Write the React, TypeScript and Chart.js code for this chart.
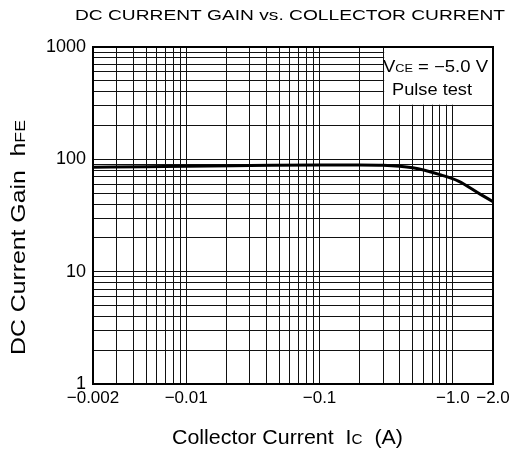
import React, { useEffect, useRef } from 'react';
import { Chart, registerables } from 'chart.js';

Chart.register(...registerables);

// Data (|Ic| in A, hFE)
const collectorCurrent = [0.002, 0.005, 0.01, 0.03, 0.1, 0.2, 0.3, 0.5, 0.8, 1.1, 1.6, 2.0];
const dcCurrentGain = [85, 86, 87, 88, 89, 89, 88.5, 84, 73, 64, 49, 42];

// Tick labels
const xTickValues = [0.002, 0.01, 0.1, 1, 2];
const xTickLabels = ['\u22120.002', '\u22120.01', '\u22120.1', '\u22121.0', '\u22122.0'];
const yTickValues = [1, 10, 100, 1000];
const yTickLabels = ['1', '10', '100', '1000'];

const xMin = 0.002;
const xMax = 2;
const yMin = 1;
const yMax = 1000;

const FONT = '"Liberation Sans", Arial, Helvetica, sans-serif';

function logGrid(min: number, max: number): number[] {
  const out: number[] = [];
  const e0 = Math.floor(Math.log10(min));
  const e1 = Math.ceil(Math.log10(max));
  for (let e = e0; e <= e1; e++) {
    for (let s = 1; s <= 9; s++) {
      const v = parseFloat((s * Math.pow(10, e)).toPrecision(6));
      if (v >= min * (1 - 1e-9) && v <= max * (1 + 1e-9)) out.push(v);
    }
  }
  return out;
}

function labelFor(v: number, values: number[], labels: string[]): string {
  for (let i = 0; i < values.length; i++) {
    if (Math.abs(v - values[i]) / values[i] < 1e-6) return labels[i];
  }
  return '';
}

type Run = { t: string; f: string; dy: number };

function drawRuns(ctx: CanvasRenderingContext2D, runs: Run[], cx: number, y: number, target?: number) {
  let total = 0;
  for (const r of runs) {
    ctx.font = r.f;
    total += ctx.measureText(r.t).width;
  }
  const w = target || total;
  const sx = w / total;
  ctx.save();
  ctx.translate(cx - w / 2, y);
  ctx.scale(sx, 1);
  ctx.textAlign = 'left';
  ctx.textBaseline = 'alphabetic';
  let x = 0;
  for (const r of runs) {
    ctx.font = r.f;
    ctx.fillText(r.t, x, r.dy);
    x += ctx.measureText(r.t).width;
  }
  ctx.restore();
}

const decorPlugin = {
  id: 'decor',
  beforeDatasetsDraw(chart: any) {
    const { ctx, chartArea, scales } = chart;
    const xl = scales.x.getPixelForValue(0.3);
    const yb = scales.y.getPixelForValue(300);
    ctx.save();
    ctx.fillStyle = '#ffffff';
    ctx.fillRect(xl + 1, chartArea.top, chartArea.right - xl - 1, yb - chartArea.top - 1);
    ctx.restore();
  },
  afterDraw(chart: any) {
    const { ctx, chartArea } = chart;
    ctx.save();
    // frame
    ctx.strokeStyle = '#000';
    ctx.lineWidth = 2;
    ctx.strokeRect(chartArea.left, chartArea.top, chartArea.right - chartArea.left, chartArea.bottom - chartArea.top);

    ctx.fillStyle = '#000';

    // title
    drawRuns(ctx, [{ t: 'DC CURRENT GAIN vs. COLLECTOR CURRENT', f: `14px ${FONT}`, dy: 0 }], 290, 20, 430);

    const big = `21px ${FONT}`;
    const small = `15px ${FONT}`;

    // x axis title
    drawRuns(
      ctx,
      [
        { t: 'Collector Current  I', f: big, dy: 0 },
        { t: 'C', f: small, dy: 0 },
        { t: '  (A)', f: big, dy: 0 },
      ],
      287.5,
      444,
      231
    );

    // y axis title
    ctx.save();
    ctx.translate(25, 237.5);
    ctx.rotate(-Math.PI / 2);
    drawRuns(
      ctx,
      [
        { t: 'DC Current Gain  h', f: big, dy: 0 },
        { t: 'FE', f: small, dy: 0 },
      ],
      0,
      0,
      235
    );
    ctx.restore();

    // annotation
    const ab = `16px ${FONT}`;
    const as = `11px ${FONT}`;
    drawRuns(
      ctx,
      [
        { t: 'V', f: ab, dy: 0 },
        { t: 'CE', f: as, dy: 0 },
        { t: ' = \u22125.0 V', f: ab, dy: 0 },
      ],
      435.5,
      72,
      105
    );
    drawRuns(ctx, [{ t: 'Pulse test', f: ab, dy: 0 }], 432, 95, 80);

    ctx.restore();
  },
};

export default function App() {
  const canvasRef = useRef<HTMLCanvasElement | null>(null);

  useEffect(() => {
    const canvas = canvasRef.current;
    if (!canvas) return;
    const xGrid = logGrid(xMin, xMax);
    const yGrid = logGrid(yMin, yMax);

    const chart = new Chart(canvas, {
      type: 'line',
      data: {
        datasets: [
          {
            label: 'hFE',
            data: collectorCurrent.map((x, i) => ({ x, y: dcCurrentGain[i] })),
            borderColor: '#000',
            borderWidth: 3,
            pointRadius: 0,
            cubicInterpolationMode: 'monotone',
            fill: false,
          },
        ],
      },
      options: {
        responsive: false,
        animation: false,
        events: [],
        layout: { padding: { top: 47, right: 26, left: 0, bottom: 0 } },
        plugins: {
          legend: { display: false },
          title: { display: false },
          tooltip: { enabled: false },
        },
        scales: {
          x: {
            type: 'logarithmic',
            min: xMin,
            max: xMax,
            afterBuildTicks: (scale: any) => {
              scale.ticks = xGrid.map((v) => ({ value: v }));
            },
            afterFit: (scale: any) => {
              scale.height = 65;
            },
            grid: { color: '#111', lineWidth: 1, drawTicks: false },
            border: { display: false },
            ticks: {
              autoSkip: false,
              maxRotation: 0,
              minRotation: 0,
              padding: 4,
              color: '#000',
              font: { family: FONT, size: 17 },
              callback: (v: any) => labelFor(Number(v), xTickValues, xTickLabels),
            },
          },
          y: {
            type: 'logarithmic',
            min: yMin,
            max: yMax,
            afterBuildTicks: (scale: any) => {
              scale.ticks = yGrid.map((v) => ({ value: v }));
            },
            afterFit: (scale: any) => {
              scale.width = 93;
            },
            grid: { color: '#111', lineWidth: 1, drawTicks: false },
            border: { display: false },
            ticks: {
              autoSkip: false,
              padding: 7,
              color: '#000',
              font: { family: FONT, size: 18 },
              callback: (v: any) => labelFor(Number(v), yTickValues, yTickLabels),
            },
          },
        },
      },
      plugins: [decorPlugin],
    } as any);

    return () => {
      chart.destroy();
    };
  }, []);

  return (
    <div style={{ position: 'fixed', left: 0, top: 0, width: 519, height: 449, background: '#fff' }}>
      <canvas ref={canvasRef} width={519} height={449} style={{ display: 'block' }} />
    </div>
  );
}
